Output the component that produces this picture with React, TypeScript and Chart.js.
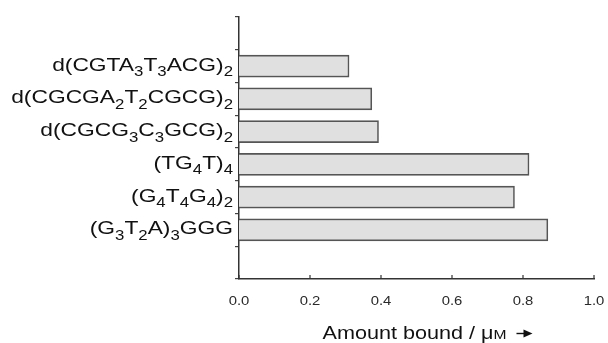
import React, { useEffect, useRef } from "react";
import { Chart, registerables } from "chart.js";

Chart.register(...registerables);

// ---- data ----
const categories: string[] = [
  "d(CGTA₃T₃ACG)₂",
  "d(CGCGA₂T₂CGCG)₂",
  "d(CGCG₃C₃GCG)₂",
  "(TG₄T)₄",
  "(G₄T₄G₄)₂",
  "(G₃T₂A)₃GGG",
];
const amountBound: number[] = [0.31, 0.374, 0.393, 0.817, 0.776, 0.87];
const xTickStep = 0.2;
const xMin = 0;
const xMax = 1;
const axisTitleMain = "Amount bound / μ";
const axisTitleSmallCap = "M";

// ---- style ----
const FONT = "'Liberation Sans', Arial, sans-serif";
const SX = 1.2; // horizontal text stretch
const SX_TICK = 1.1;
const SUBS = "₀₁₂₃₄₅₆₇₈₉";

function drawRich(ctx: CanvasRenderingContext2D, text: string, xRight: number, yBase: number) {
  const main = `19px ${FONT}`;
  const sub = `14px ${FONT}`;
  const segs: { t: string; s: boolean }[] = [];
  for (const ch of text) {
    const idx = SUBS.indexOf(ch);
    const isSub = idx >= 0;
    const c = isSub ? String(idx) : ch;
    const last = segs[segs.length - 1];
    if (last && last.s === isSub) last.t += c;
    else segs.push({ t: c, s: isSub });
  }
  let w = 0;
  const widths = segs.map((sg) => {
    ctx.font = sg.s ? sub : main;
    const m = ctx.measureText(sg.t).width;
    w += m;
    return m;
  });
  ctx.save();
  ctx.translate(xRight - w * SX, yBase);
  ctx.scale(SX, 1);
  let x = 0;
  segs.forEach((sg, i) => {
    ctx.font = sg.s ? sub : main;
    ctx.fillText(sg.t, x, sg.s ? 5.5 : 0);
    x += widths[i];
  });
  ctx.restore();
}

const textPlugin = {
  id: "textPlugin",
  afterDraw(chart: any) {
    const ctx: CanvasRenderingContext2D = chart.ctx;
    const ys = chart.scales.y;
    const xs = chart.scales.x;
    const area = chart.chartArea;
    ctx.save();
    ctx.textBaseline = "alphabetic";
    ctx.textAlign = "left";
    // y category labels
    ctx.fillStyle = "#111";
    categories.forEach((c, i) => {
      const y = ys.getPixelForValue(i);
      drawRich(ctx, c, area.left - 6, y + 4.5);
    });
    // x ticks inward + labels
    ctx.strokeStyle = "#333";
    ctx.lineWidth = 1.2;
    ctx.fillStyle = "#2a2a2a";
    ctx.font = `13.5px ${FONT}`;
    xs.ticks.forEach((t: any) => {
      const x = xs.getPixelForValue(t.value);
      ctx.beginPath();
      ctx.moveTo(x, area.bottom);
      ctx.lineTo(x, area.bottom - 4);
      ctx.stroke();
      const label = t.value.toFixed(1);
      const w = ctx.measureText(label).width * SX_TICK;
      ctx.save();
      ctx.translate(x - w / 2, area.bottom + 26);
      ctx.scale(SX_TICK, 1);
      ctx.fillText(label, 0, 0);
      ctx.restore();
    });
    // axis title
    ctx.fillStyle = "#111";
    const fMain = `18px ${FONT}`;
    const fSc = `13px ${FONT}`;
    ctx.font = fMain;
    const w1 = ctx.measureText(axisTitleMain).width;
    ctx.font = fSc;
    const w2 = ctx.measureText(axisTitleSmallCap).width;
    const tw = (w1 + w2) * SX;
    const cx = (area.left + area.right) / 2;
    const tx = cx - tw / 2 - 2;
    const ty = area.bottom + 59.5;
    ctx.save();
    ctx.translate(tx, ty);
    ctx.scale(SX, 1);
    ctx.font = fMain;
    ctx.fillText(axisTitleMain, 0, 0);
    ctx.font = fSc;
    ctx.fillText(axisTitleSmallCap, w1, 0);
    ctx.restore();
    // arrow
    const ax = tx + tw + 10;
    const ay = ty - 5;
    ctx.strokeStyle = "#111";
    ctx.lineWidth = 1.4;
    ctx.beginPath();
    ctx.moveTo(ax, ay);
    ctx.lineTo(ax + 9, ay);
    ctx.stroke();
    ctx.fillStyle = "#111";
    ctx.beginPath();
    ctx.moveTo(ax + 7, ay - 4);
    ctx.lineTo(ax + 16, ay);
    ctx.lineTo(ax + 7, ay + 4);
    ctx.closePath();
    ctx.fill();
    ctx.restore();
  },
};

export default function App() {
  const ref = useRef<HTMLCanvasElement | null>(null);
  useEffect(() => {
    if (!ref.current) return;
    const chart = new Chart(ref.current, {
      type: "bar",
      data: {
        datasets: [
          {
            data: amountBound.map((v, i) => ({ x: v, y: i })),
            backgroundColor: "#e0e0e0",
            borderColor: "#555",
            borderWidth: 1.6,
            barThickness: 22,
          },
        ],
      },
      options: {
        indexAxis: "y",
        animation: false,
        responsive: true,
        maintainAspectRatio: false,
        layout: { padding: { left: 0, right: 14, top: 17, bottom: 0 } },
        plugins: { legend: { display: false }, tooltip: { enabled: false } },
        scales: {
          x: {
            type: "linear",
            min: xMin,
            max: xMax,
            ticks: { stepSize: xTickStep, display: false },
            grid: { display: false },
            border: { display: true, color: "#333", width: 1.5 },
            afterFit: (s: any) => {
              s.height = 64;
            },
          },
          y: {
            type: "linear",
            reverse: true,
            min: -1,
            max: categories.length,
            ticks: { stepSize: 1, callback: () => "", padding: 0 },
            grid: {
              drawOnChartArea: false,
              drawTicks: true,
              tickLength: 4,
              color: "#444",
              lineWidth: 1.2,
            },
            border: { display: true, color: "#333", width: 1.5 },
            afterFit: (s: any) => {
              s.width = 239;
            },
          },
        },
      } as any,
      plugins: [textPlugin],
    });
    return () => chart.destroy();
  }, []);
  return (
    <div style={{ position: "fixed", left: 0, top: 0, width: 608, height: 343, background: "#fff" }}>
      <canvas ref={ref} />
    </div>
  );
}
